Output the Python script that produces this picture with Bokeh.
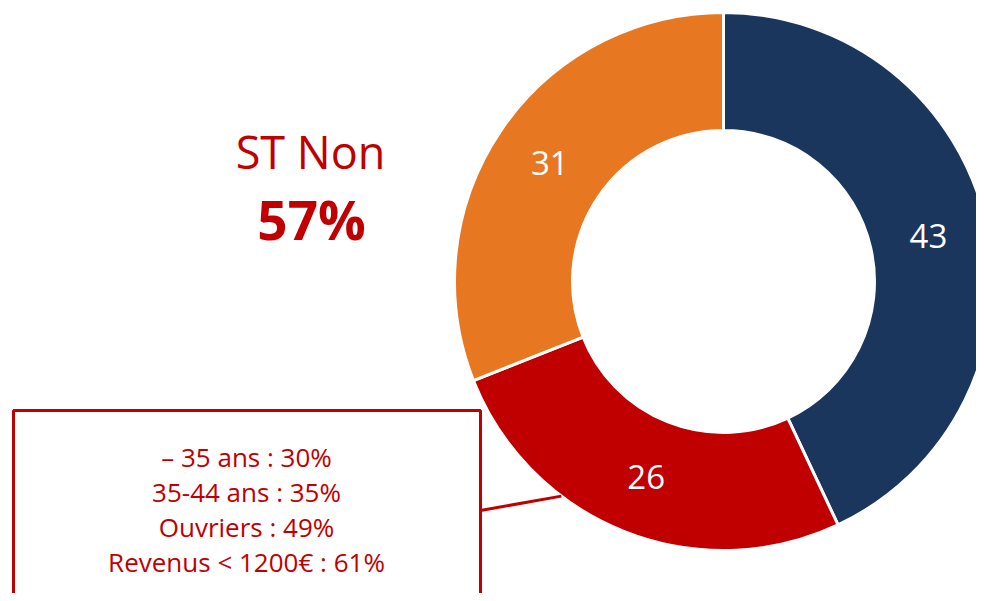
from bokeh.plotting import figure
from bokeh.models import Range1d, ColumnDataSource
from bokeh.core.properties import value
from bokeh.embed import file_html
from bokeh.resources import INLINE
import math

# ---- data ----
categories = ["Segment A", "Segment B", "Segment C"]
values = [43, 26, 31]
colors = ["#1B365D", "#C00000", "#E87722"]
title_line = "ST Non"
title_value = "57%"
box_lines = ["\u2013 35 ans : 30%", "35-44 ans : 35%", "Ouvriers : 49%", "Revenus < 1200\u20ac : 61%"]

RED = "#C00000"
FONT = "Open Sans"

W, H = 976, 593
p = figure(width=W, height=H, output_backend="svg", toolbar_location=None,
           x_range=Range1d(0, 976), y_range=Range1d(8, 601), min_border=0)
p.axis.visible = False
p.grid.visible = False
p.outline_line_color = None
p.background_fill_color = "white"
p.border_fill_color = "white"

def Y(py):
    return 601 - py

cx, cy = 723, Y(281)
r_out, r_in = 269, 151

total = sum(values)
starts, ends, lx, ly = [], [], [], []
cum = 0.0
for v in values:
    a0 = math.pi / 2 - 2 * math.pi * cum / total
    a1 = math.pi / 2 - 2 * math.pi * (cum + v) / total
    starts.append(a0)
    ends.append(a1)
    mid = (a0 + a1) / 2
    rm = (r_in + r_out) / 2
    lx.append(cx + rm * math.cos(mid))
    ly.append(cy + rm * math.sin(mid))
    cum += v

src = ColumnDataSource(dict(start=starts, end=ends, color=colors,
                            lx=lx, ly=ly, label=[str(v) for v in values]))

p.annular_wedge(x=cx, y=cy, inner_radius=r_in, outer_radius=r_out,
                start_angle="start", end_angle="end", direction="clock",
                fill_color="color", line_color="white", line_width=3, source=src)

p.text(x="lx", y="ly", text="label", source=src, text_color="white",
       text_font=value(FONT), text_font_size="33px", text_align="center",
       text_baseline="middle")

# title texts
p.text(x=[310], y=[Y(151)], text=[title_line], text_color=RED, text_font=value(FONT),
       text_font_size="45px", text_align="center", text_baseline="middle")
p.text(x=[311], y=[Y(219)], text=[title_value], text_color=RED, text_font=value(FONT),
       text_font_size="53px", text_font_style="bold", text_align="center",
       text_baseline="middle")

# callout box
p.quad(left=[13], right=[480], top=[Y(410)], bottom=[Y(640)], fill_color=None,
       line_color=RED, line_width=3)
# connector from box to red slice
red_mid = (starts[1] + ends[1]) / 2
ang = red_mid - 0.27
ex, ey = cx + r_out * math.cos(ang), cy + r_out * math.sin(ang)
p.line(x=[480, ex], y=[Y(510), ey], line_color=RED, line_width=3)

p.text(x=[246] * len(box_lines), y=[Y(456), Y(491), Y(526), Y(561)], text=box_lines,
       text_color=RED, text_font=value(FONT), text_font_size="26px",
       text_align="center", text_baseline="middle")

open("out.html", "w").write(file_html(p, INLINE))
